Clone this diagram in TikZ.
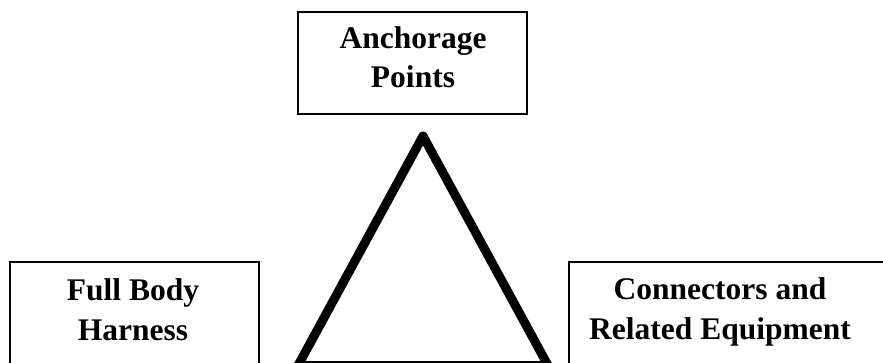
\documentclass[tikz,border=0pt]{standalone}
\usepackage{fontspec}
\setmainfont{Liberation Serif}
\begin{document}
\begin{tikzpicture}[x=1pt,y=-1pt,
  panel/.style={draw=black, line width=2.5pt, fill=white},
  label/.style={font=\bfseries\fontsize{31.5}{40}\selectfont, align=center, anchor=base, inner sep=0pt},
  tri/.style={draw=black, line width=9pt, line join=round}]
  \useasboundingbox (0,0) rectangle (883,362);
  \clip (0,0) rectangle (883,362);
  % boxes (the lower two run past the bottom and right edges)
  \draw[panel] (298,12) rectangle (527,114);
  \draw[panel] (10,262) rectangle (259,420);
  \draw[panel] (569,262) rectangle (920,420);
  % texts, placed by the baseline of their last line
  \node[label, font=\bfseries\fontsize{31.5}{38.5}\selectfont] (anchor) at (413,87) {Anchorage\\Points};
  \node[label] (harness) at (133,340) {Full Body\\Harness};
  \node[label] (connect) at (720,339) {Connectors and\\Related Equipment};
  % central triangle
  \coordinate (apex) at (423,136);
  \coordinate (bl) at (298,365.5);
  \coordinate (br) at (548,365.5);
  \draw[tri] (apex) -- (br) -- (bl) -- cycle;
\end{tikzpicture}
\end{document}
